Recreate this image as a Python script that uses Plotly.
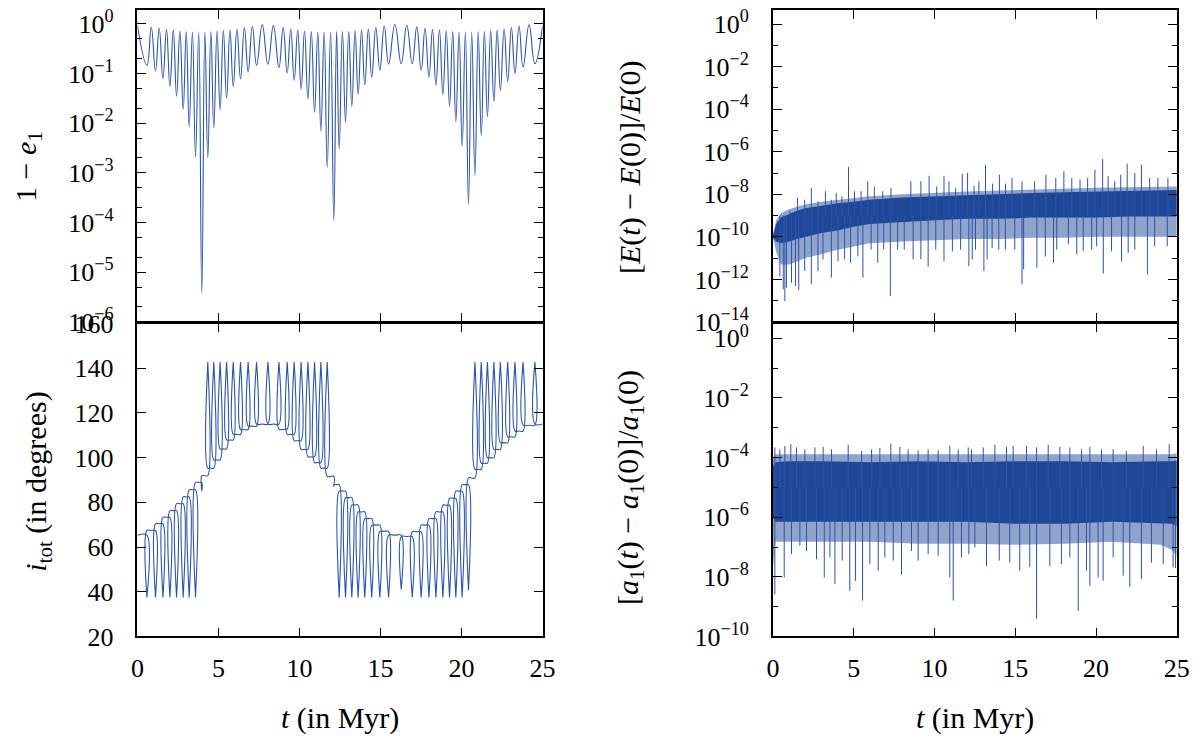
import plotly.graph_objects as go

SERIF = "Liberation Serif, Times New Roman, Times, serif"
LINE = "#2b54ad"
CORE = "#1f4798"
FRINGE = "rgba(31,71,152,0.5)"

# ---- Kozai cycles: times (Myr) of the eccentricity maxima (dips of 1 - e1)
dip_t = [0.58, 1.11, 1.57, 2.00, 2.41, 2.82, 3.19, 3.58, 3.97, 4.34, 4.71, 5.10,
         5.50, 5.91, 6.36, 6.83, 7.35, 8.05, 8.73, 9.24, 9.67, 10.10, 10.52, 10.93,
         11.32, 11.71, 12.12, 12.45, 12.84, 13.23, 13.62, 14.03, 14.46, 14.96, 15.50,
         16.28, 16.96, 17.51, 17.99, 18.42, 18.85, 19.26, 19.65, 20.04, 20.43, 20.83,
         21.22, 21.60, 22.00, 22.40, 22.85, 23.30, 23.80, 24.53]
dip_e = [0.147, 0.113, 0.079, 0.055, 0.035, 0.019, 0.0085, 0.0021, 3.8e-6, 0.0020,
         0.0080, 0.0186, 0.032, 0.055, 0.079, 0.108, 0.147, 0.154, 0.132, 0.103, 0.073,
         0.049, 0.031, 0.0166, 0.0069, 0.0013, 1.1e-4, 0.0030, 0.0105, 0.022, 0.038,
         0.059, 0.085, 0.117, 0.155, 0.158, 0.158, 0.117, 0.085, 0.058, 0.038, 0.022,
         0.0107, 0.0034, 2.3e-4, 9.0e-4, 0.0056, 0.0135, 0.0275, 0.046, 0.069, 0.10,
         0.135, 0.158]
# inclination at those same times (spikes)
incl_dip = [37.5, 37.5, 37.5, 37.5, 37.5, 37.5, 37.5, 37.5, 85.0,
            142.7, 142.7, 142.7, 142.7, 142.7, 142.7, 142.7, 142.7, 142.7, 142.7,
            142.7, 142.7, 142.7, 142.7, 142.7, 142.7, 142.7, 87.0,
            37.5, 37.5, 37.5, 37.5, 37.5, 37.5, 37.5, 37.5, 41.0, 37.5, 37.5, 37.5,
            37.5, 37.5, 37.5, 37.5, 37.5, 40.7,
            142.7, 142.7, 142.7, 142.7, 142.7, 142.7, 142.7, 142.7, 142.7]

# times of the eccentricity minima (tops of the arches), Myr
arch_t = [0.0, 0.85, 1.34, 1.79, 2.21, 2.62, 3.01, 3.39, 3.78, 4.16, 4.53, 4.91, 5.30,
          5.71, 6.14, 6.60, 7.09, 7.70, 8.39, 8.99, 9.46, 9.89, 10.31, 10.73, 11.13,
          11.52, 11.92, 12.29, 12.65, 13.04, 13.43, 13.83, 14.25, 14.71, 15.23, 15.89,
          16.62, 17.24, 17.75, 18.21, 18.64, 19.06, 19.46, 19.85, 20.24, 20.63, 21.03,
          21.41, 21.80, 22.20, 22.63, 23.08, 23.55, 24.17, 25.0]
arch_e = [0.93, 0.856, 0.817, 0.78, 0.756, 0.72, 0.70, 0.688, 0.688, 0.688, 0.70, 0.72,
          0.733, 0.756, 0.79, 0.843, 0.897, 0.955, 0.925, 0.843, 0.79, 0.756, 0.72,
          0.70, 0.688, 0.688, 0.688, 0.70, 0.70, 0.71, 0.733, 0.756, 0.79, 0.843, 0.91,
          0.97, 0.94, 0.87, 0.817, 0.78, 0.756, 0.72, 0.70, 0.688, 0.688, 0.688, 0.70,
          0.71, 0.733, 0.756, 0.79, 0.843, 0.91, 0.955, 0.90]
incl_arch = [65.3, 67.4, 70.4, 73.3, 76.3, 79.4, 82.4, 85.6, 88.9, 91.9, 95.3, 99.0,
             103.9, 107.9, 110.4, 112.6, 114.1, 115.0, 115.0, 112.7, 110.4, 107.6, 103.7,
             100.4, 97.8, 95.3, 91.6, 87.9, 85.0, 82.1, 78.8, 75.7, 72.7, 69.8, 67.0,
             65.3, 64.7, 66.8, 69.8, 72.7, 75.7, 78.7, 81.8, 85.0, 87.9, 90.9, 94.8,
             97.5, 100.0, 103.7, 106.7, 109.3, 111.9, 114.5, 115.0]

# ---- energy error: dense band (core + ragged fringe) and isolated spikes
e_band_t = [0, 0.2, 0.5, 1, 1.5, 2, 3, 4, 5, 6, 8, 10, 12, 14, 16, 18, 20, 22, 24, 25]
e_core_hi = [1.1e-10, 4e-10, 8e-10, 1.2e-9, 1.7e-9, 2.2e-9, 3e-9, 3.8e-9, 4.5e-9,
             5.5e-9, 7e-9, 8e-9, 9e-9, 1.05e-8, 1.15e-8, 1.25e-8, 1.35e-8, 1.45e-8,
             1.55e-8, 1.6e-8]
e_core_lo = [9e-11, 6e-11, 5e-11, 6e-11, 8e-11, 1e-10, 1.5e-10, 2e-10, 3e-10, 4e-10,
             5e-10, 6e-10, 7e-10, 7e-10, 8e-10, 8e-10, 8e-10, 9e-10, 9e-10, 9e-10]
e_fringe_hi = [1.2e-10, 6e-10, 1.3e-9, 2e-9, 2.6e-9, 3.3e-9, 4.5e-9, 5.5e-9, 6.5e-9,
               8e-9, 1e-8, 1.2e-8, 1.35e-8, 1.5e-8, 1.7e-8, 1.8e-8, 2e-8, 2.1e-8,
               2.2e-8, 2.3e-8]
e_fringe_lo = [1e-10, 2e-11, 5e-12, 5e-12, 7e-12, 1e-11, 1.5e-11, 2.5e-11, 3.5e-11,
               5e-11, 6e-11, 7e-11, 8e-11, 8e-11, 9e-11, 9e-11, 1e-10, 1e-10, 1e-10, 1e-10]
e_up_t = [0.58, 1.05, 1.52, 1.97, 2.38, 2.79, 3.25, 3.62, 3.92, 4.27, 4.68, 5.05, 5.46,
          5.87, 6.28, 6.80, 7.31, 8.54, 9.16, 9.67, 10.14, 10.59, 10.90, 11.31, 11.72,
          12.05, 12.45, 12.75, 13.16, 13.60, 14.02, 14.40, 14.80, 15.42, 16.20, 16.90,
          17.51, 18.01, 18.50, 19.01, 19.48, 19.93, 20.41, 20.75, 21.16, 21.53, 21.93,
          22.40, 22.81, 23.32, 23.83, 24.45]
e_up_v = [9.3e-10, 1.6e-9, 6.8e-9, 5.6e-9, 2.0e-8, 4.7e-9, 1.4e-8, 5.6e-9, 1.15e-8,
          7.9e-9, 1.9e-7, 1.4e-8, 1.4e-8, 4.1e-8, 2.3e-8, 1.4e-8, 2.0e-8, 4.1e-8, 4.1e-8,
          7.4e-8, 2.3e-8, 7.4e-8, 4.1e-8, 2.0e-8, 9.3e-8, 1.0e-7, 2.5e-8, 4.1e-8,
          2.45e-7, 3.2e-8, 8.3e-8, 3.2e-8, 5.9e-8, 4.1e-8, 4.1e-8, 8.3e-8, 5.9e-8,
          1.2e-7, 5.9e-8, 4.9e-8, 5.9e-8, 1.45e-7, 4.5e-7, 7.1e-8, 4.1e-8, 8.3e-8,
          2.75e-7, 1.0e-7, 2.45e-7, 5.9e-8, 5.9e-8, 5.9e-8]
e_dn_t = [0.43, 0.64, 0.74, 0.84, 1.15, 1.40, 1.60, 1.97, 2.38, 2.79, 3.10, 3.62, 4.03,
          4.44, 4.81, 5.26, 5.57, 6.08, 6.49, 6.86, 7.27, 7.72, 8.13, 8.68, 9.16, 9.61,
          10.08, 10.59, 11.11, 11.62, 12.13, 12.34, 12.54, 13.06, 13.26, 13.57, 13.98,
          14.39, 14.97, 15.42, 15.52, 16.34, 16.86, 17.37, 17.57, 18.29, 18.81, 19.21,
          19.73, 20.04, 20.45, 20.96, 21.58, 21.99, 22.40, 23.18, 23.63, 24.41]
e_dn_v = [1.4e-12, 3.4e-13, 9.5e-14, 4.1e-13, 6.9e-13, 4.9e-13, 3.2e-13, 2.45e-12,
          5.9e-13, 2.45e-12, 8.7e-12, 1.2e-12, 7.2e-12, 8.7e-12, 6e-12, 1.2e-11, 1.2e-12,
          2.5e-11, 6e-12, 2.5e-11, 1.66e-13, 2.5e-11, 2.5e-11, 8.7e-12, 8.7e-12, 3.9e-12,
          2.5e-11, 7.2e-12, 2.1e-11, 2.5e-11, 4.2e-12, 8.7e-12, 2.5e-11, 2.45e-12,
          8.7e-12, 3e-11, 2.5e-11, 2.5e-11, 2.5e-11, 5.9e-13, 3e-12, 3.5e-12, 1.2e-11,
          6e-12, 2.5e-11, 4.4e-11, 1.5e-11, 2.1e-11, 2.5e-11, 3.6e-11, 1.9e-12, 2.1e-11,
          7.2e-12, 1.8e-11, 2.5e-11, 1.7e-12, 3.6e-11, 3.6e-11]

# ---- semi-major axis error: dense band and isolated spikes
a_band_t = [0, 0.15, 1, 3, 6, 9, 12, 15, 18, 21, 24, 24.7, 25]
a_core_hi = [5e-5, 7e-5, 7.5e-5, 7.5e-5, 7e-5, 7.5e-5, 7e-5, 7.5e-5, 7.5e-5, 7e-5,
             7.5e-5, 7.5e-5, 8e-5]
a_core_lo = [1e-6, 7e-7, 7e-7, 7e-7, 7e-7, 7e-7, 7e-7, 6e-7, 6e-7, 7e-7, 6e-7, 6e-7, 5e-7]
a_fringe_hi = [1e-4, 1.3e-4, 1.3e-4, 1.3e-4, 1.3e-4, 1.3e-4, 1.3e-4, 1.3e-4, 1.3e-4,
               1.3e-4, 1.3e-4, 1.3e-4, 1.4e-4]
a_fringe_lo = [2e-8, 1.5e-7, 1.5e-7, 1.5e-7, 1.5e-7, 1.3e-7, 1.3e-7, 1.2e-7, 1.3e-7,
               1.5e-7, 1.2e-7, 8e-8, 5e-8]
a_up_t = [0.12, 0.43, 0.74, 1.11, 1.46, 1.98, 2.60, 3.11, 3.63, 4.66, 5.49, 6.11, 6.62,
          7.30, 7.86, 8.37, 8.99, 9.61, 10.23, 10.95, 11.47, 12.09, 12.29, 13.02, 13.74,
          14.46, 14.87, 15.70, 16.32, 17.04, 17.76, 18.38, 19.10, 19.62, 20.34, 21.06,
          21.88, 22.92, 23.74, 24.53]
a_up_v = [2.2e-4, 1.9e-4, 2.45e-4, 2.8e-4, 2.2e-4, 1.9e-4, 2.2e-4, 2.3e-4, 1.9e-4,
          2.7e-4, 1.66e-4, 1.9e-4, 2.1e-4, 2.95e-4, 2.3e-4, 1.9e-4, 1.74e-4, 1.9e-4,
          1.74e-4, 2.45e-4, 1.9e-4, 2.2e-4, 1.9e-4, 2.2e-4, 2.7e-4, 2.3e-4, 2.45e-4,
          2.45e-4, 2.2e-4, 2.7e-4, 2.3e-4, 2.2e-4, 1.9e-4, 2.3e-4, 1.9e-4, 1.9e-4,
          1.66e-4, 2.45e-4, 1.9e-4, 2.8e-4]
a_dn_t = [0.12, 0.70, 1.15, 1.67, 2.08, 2.70, 3.18, 3.53, 3.84, 4.29, 4.76, 5.11, 5.55,
          6.00, 6.52, 6.93, 7.45, 7.96, 8.58, 8.99, 9.61, 10.23, 10.95, 11.16, 11.67,
          12.13, 12.50, 13.22, 14.01, 14.66, 15.28, 15.90, 16.32, 17.14, 17.86, 18.38,
          18.90, 19.41, 19.62, 20.13, 20.44, 21.06, 21.68, 22.09, 22.81, 23.43, 24.16,
          24.77, 24.92]
a_dn_v = [2.6e-9, 9.5e-9, 5.8e-8, 1.1e-7, 7.4e-8, 3.9e-8, 9.5e-9, 4.5e-8, 5.8e-9,
          3.5e-8, 3.4e-9, 7.4e-9, 1.6e-9, 2.7e-8, 1.6e-8, 4.5e-8, 3.5e-8, 1.2e-8, 7.4e-8,
          3.5e-8, 5.8e-8, 5.1e-8, 9.5e-9, 1.6e-9, 4.5e-8, 5.8e-8, 9.8e-8, 2.3e-8, 3.5e-8,
          3e-8, 1.6e-8, 2.1e-8, 3.9e-10, 2.3e-8, 2.7e-8, 4.5e-8, 7.2e-10, 1.6e-8, 5e-9,
          9.5e-9, 7.4e-9, 4.5e-8, 1.1e-8, 4.5e-9, 8.5e-9, 3e-8, 2.7e-8, 2.1e-8, 2.0e-8]


def merged(ta, va, tb, vb):
    pts = sorted(zip(ta + tb, va + vb))
    return [p[0] for p in pts], [p[1] for p in pts]


def comb(at, av, dt, dv):
    # level between spikes held up to each Kozai spike, spike drawn at its own time
    xs, ys = [at[0]], [av[0]]
    for i, (t, v) in enumerate(zip(dt, dv)):
        xs += [t, t, t, at[i + 1]]
        ys += [av[i], v, av[i + 1], av[i + 1]]
    return xs, ys


def spikes(ts, vs, base):
    xs, ys = [], []
    for t, v in zip(ts, vs):
        xs += [t, t, None]
        ys += [base, v, None]
    return xs, ys


def band(fig, t, lo, hi, color, xa, ya):
    fig.add_trace(go.Scatter(x=t, y=lo, mode="lines", line=dict(width=0),
                             xaxis=xa, yaxis=ya, hoverinfo="skip"))
    fig.add_trace(go.Scatter(x=t, y=hi, mode="lines", line=dict(width=0),
                             fill="tonexty", fillcolor=color,
                             xaxis=xa, yaxis=ya, hoverinfo="skip"))


fig = go.Figure()

ecc_x, ecc_y = merged(arch_t, arch_e, dip_t, dip_e)
inc_x, inc_y = comb(arch_t, incl_arch, dip_t, incl_dip)

fig.add_trace(go.Scatter(x=ecc_x, y=ecc_y, mode="lines", xaxis="x", yaxis="y",
                         line=dict(color=LINE, width=1.1, shape="spline",
                                   smoothing=1.3, simplify=False)))
fig.add_trace(go.Scatter(x=inc_x, y=inc_y, mode="lines", xaxis="x2", yaxis="y2",
                         line=dict(color=LINE, width=1.1, shape="spline",
                                   smoothing=1, simplify=False)))

# energy panel
band(fig, e_band_t, e_fringe_lo, e_fringe_hi, FRINGE, "x3", "y3")
band(fig, e_band_t, e_core_lo, e_core_hi, CORE, "x3", "y3")
sx, sy = spikes(e_up_t + e_dn_t, e_up_v + e_dn_v, 1e-9)
fig.add_trace(go.Scatter(x=sx, y=sy, mode="lines", xaxis="x3", yaxis="y3",
                         line=dict(color=LINE, width=1)))

# semi-major axis panel
band(fig, a_band_t, a_fringe_lo, a_fringe_hi, FRINGE, "x4", "y4")
band(fig, a_band_t, a_core_lo, a_core_hi, CORE, "x4", "y4")
sx, sy = spikes(a_up_t + a_dn_t, a_up_v + a_dn_v, 1e-5)
fig.add_trace(go.Scatter(x=sx, y=sy, mode="lines", xaxis="x4", yaxis="y4",
                         line=dict(color=LINE, width=1)))

TICKFONT = dict(family=SERIF, size=26, color="black")
base = dict(showline=True, linecolor="black", linewidth=1.5, mirror="ticks",
            ticks="inside", ticklen=9, tickwidth=1.3, tickcolor="black",
            showgrid=False, zeroline=False, automargin=False,
            ticklabeloverflow="allow", tickfont=TICKFONT)


def pow_text(n):
    return "10<sup>%s</sup>" % (str(n).replace("-", "\u2212"))


def xaxis(dom, anchor, labels):
    return dict(base, domain=dom, anchor=anchor, range=[0, 25],
                tickvals=[0, 5, 10, 15, 20, 25], showticklabels=labels,
                ticklabelstandoff=8)


def logaxis(dom, anchor, lo, hi, labelled, minor):
    return dict(base, domain=dom, anchor=anchor, type="log", range=[lo, hi],
                tickvals=[10.0 ** n for n in labelled],
                ticktext=[pow_text(n) for n in labelled],
                ticklabelstandoff=17,
                minor=dict(tickvals=minor, ticks="inside", ticklen=5,
                           tickwidth=1.2, tickcolor="black"))


# page body adds an 8 px margin, so the figure is 8 px smaller than the window
W, H = 1192, 728
LEFT = [0.10864, 0.44841]
RIGHT = [0.64169, 0.98054]
TOP = [0.56875, 0.99725]
BOT = [0.13668, 0.56669]

minor_tl = [k * 10.0 ** n for n in range(-6, 1) for k in (2, 5) if k * 10.0 ** n < 1.9]
odd_tr = [10.0 ** n for n in range(-13, 0, 2)]
odd_br = [10.0 ** n for n in range(-9, 0, 2)]

fig.update_layout(
    width=W, height=H,
    margin=dict(l=0, r=0, t=0, b=0, autoexpand=False),
    paper_bgcolor="white", plot_bgcolor="white",
    showlegend=False,
    font=dict(family=SERIF, color="black"),
    xaxis=xaxis(LEFT, "y", False),
    yaxis=logaxis(TOP, "x", -6, 0.28, range(-6, 1), minor_tl),
    xaxis2=xaxis(LEFT, "y2", True),
    yaxis2=dict(base, domain=BOT, anchor="x2", range=[20, 160],
                tickvals=list(range(20, 161, 20)), ticklabelstandoff=17),
    xaxis3=xaxis(RIGHT, "y3", False),
    yaxis3=logaxis(TOP, "x3", -14, 0.66, range(-14, 1, 2), odd_tr),
    xaxis4=xaxis(RIGHT, "y4", True),
    yaxis4=logaxis(BOT, "x4", -10, 0.5, range(-10, 1, 2), odd_br),
)

TITLE = dict(family=SERIF, size=30, color="black")
titles = [
    ("1 \u2212 <i>e</i><sub>1</sub>", 0.0168, 0.7816, -90),
    ("<i>i</i><sub>tot</sub> (in degrees)", 0.0250, 0.3489, -90),
    ("[<i>E</i>(<i>t</i>) \u2212 <i>E</i>(0)]/<i>E</i>(0)", 0.5218, 0.7816, -90),
    ("[<i>a</i><sub>1</sub>(<i>t</i>) \u2212 <i>a</i><sub>1</sub>(0)]/<i>a</i><sub>1</sub>(0)",
     0.5218, 0.3420, -90),
    ("<i>t</i> (in Myr)", 0.2785, 0.0245, 0),
    ("<i>t</i> (in Myr)", 0.8112, 0.0245, 0),
]
for text, x, y, ang in titles:
    fig.add_annotation(text=text, x=x, y=y, xref="paper", yref="paper",
                       xanchor="center", yanchor="middle", showarrow=False,
                       textangle=ang, font=TITLE)

fig.write_html("out.html")
